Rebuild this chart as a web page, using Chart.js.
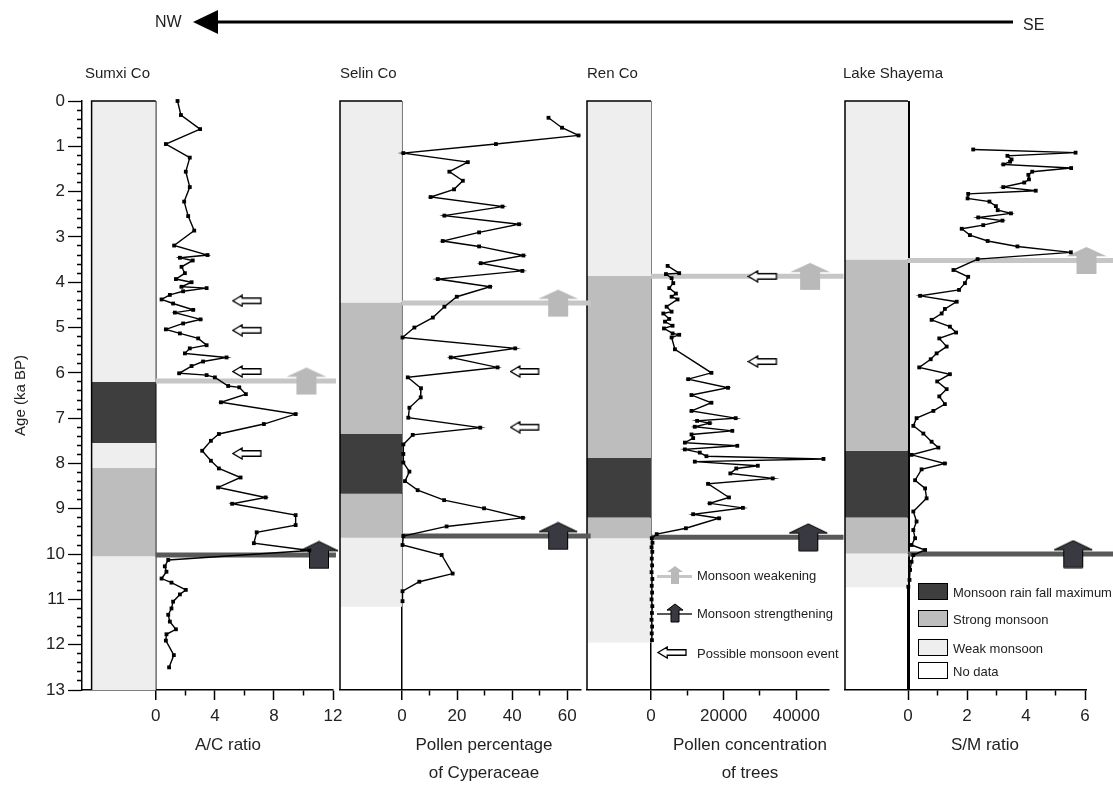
<!DOCTYPE html>
<html>
<head>
<meta charset="utf-8">
<script src="https://cdn.jsdelivr.net/npm/chart.js@4/dist/chart.umd.min.js"></script>
<style>
  body { margin: 0; background: #fff; font-family: 'Liberation Sans', Arial, sans-serif; }
  #wrap { position: relative; width: 1113px; height: 786px; overflow: hidden; }
  canvas.panel { position: absolute; left: 0; top: 0; }
  .t { position: absolute; white-space: nowrap; color: #222; }
  .c { transform: translate(-50%, -50%); }
  .m { transform: translateY(-50%); }
  .lg { font-size: 13px; }
  .ax { font-size: 17px; }
  .box { position: absolute; width: 28px; height: 15px; border: 1.5px solid #000; }
  canvas.icon { position: absolute; }
</style>
</head>
<body>
<div id="wrap">
  <canvas id="c4" class="panel" width="1113" height="786"></canvas>
  <canvas id="c3" class="panel" width="1113" height="786"></canvas>
  <canvas id="c2" class="panel" width="1113" height="786"></canvas>
  <canvas id="c1" class="panel" width="1113" height="786"></canvas>

  <svg style="position:absolute;left:0;top:0" width="1113" height="50">
    <line x1="210" y1="22" x2="1013" y2="22" stroke="#000" stroke-width="3"/>
    <polygon points="193,22 218,10 218,34" fill="#000"/>
  </svg>
  <div class="t" style="left:155px;top:22px;font-size:16px;transform:translateY(-50%)">NW</div>
  <div class="t" style="left:1023px;top:25px;font-size:16px;transform:translateY(-50%)">SE</div>

  <div class="t m" style="left:85px;top:72px;font-size:15px">Sumxi Co</div>
  <div class="t m" style="left:340px;top:72px;font-size:15px">Selin Co</div>
  <div class="t m" style="left:587px;top:72px;font-size:15px">Ren Co</div>
  <div class="t m" style="left:843px;top:72px;font-size:15px">Lake Shayema</div>

  <div class="t c ax" style="left:228px;top:745px">A/C ratio</div>
  <div class="t c ax" style="left:484px;top:745px">Pollen percentage</div>
  <div class="t c ax" style="left:484px;top:773px">of Cyperaceae</div>
  <div class="t c ax" style="left:750px;top:745px">Pollen concentration</div>
  <div class="t c ax" style="left:750px;top:773px">of trees</div>
  <div class="t c ax" style="left:985px;top:745px">S/M ratio</div>

  <!-- legend: events -->
  <canvas id="iconWeak" class="icon" width="38" height="22" style="left:656px;top:564px"></canvas>
  <div class="t m lg" style="left:697px;top:575px">Monsoon weakening</div>
  <canvas id="iconStrong" class="icon" width="38" height="22" style="left:656px;top:602px"></canvas>
  <div class="t m lg" style="left:697px;top:613px">Monsoon strengthening</div>
  <canvas id="iconEvent" class="icon" width="32" height="14" style="left:656px;top:646px"></canvas>
  <div class="t m lg" style="left:697px;top:653px">Possible monsoon event</div>

  <!-- legend: zones -->
  <div class="box" style="left:918px;top:583px;background:#3e3e3e"></div>
  <div class="t m lg" style="left:953px;top:592px">Monsoon rain fall maximum</div>
  <div class="box" style="left:918px;top:610px;background:#bdbdbd"></div>
  <div class="t m lg" style="left:953px;top:619px">Strong monsoon</div>
  <div class="box" style="left:918px;top:639px;background:#eeeeee"></div>
  <div class="t m lg" style="left:953px;top:648px">Weak monsoon</div>
  <div class="box" style="left:918px;top:662px;background:#fff"></div>
  <div class="t m lg" style="left:953px;top:671px">No data</div>
</div>

<script>
// age axis (ka BP)
const ageTicks = [0, 1, 2, 3, 4, 5, 6, 7, 8, 9, 10, 11, 12, 13];

// Sumxi Co - A/C ratio
const sumxiAge = [0.0, 0.31, 0.62, 0.95, 1.25, 1.56, 1.9, 2.22, 2.54, 2.86, 3.19, 3.4, 3.46, 3.52, 3.66, 3.8, 3.93, 4.0, 4.1, 4.13,
  4.2, 4.28, 4.38, 4.47, 4.61, 4.67, 4.82, 4.91, 5.04, 5.13, 5.24, 5.39, 5.46, 5.57, 5.66, 5.75, 5.85, 6.01, 6.05, 6.1,
  6.29, 6.32, 6.47, 6.65, 6.91, 7.13, 7.35, 7.5, 7.72, 7.94, 8.11, 8.31, 8.53, 8.75, 8.89, 9.14, 9.36, 9.52, 9.76, 9.92,
  10.13, 10.27, 10.39, 10.54, 10.63, 10.79, 10.89, 11.05, 11.2, 11.34, 11.49, 11.66, 11.77, 11.91, 12.23, 12.5];
const sumxiAC = [1.47, 1.7, 3.0, 0.68, 2.3, 2.03, 2.3, 1.92, 2.19, 2.6, 1.24, 3.5, 1.63, 2.5, 1.74, 1.97, 1.36, 2.42, 1.74, 3.44,
  1.85, 0.95, 0.39, 1.17, 2.53, 1.29, 3.03, 1.85, 0.68, 1.63, 2.87, 3.44, 2.3, 1.97, 4.79, 3.2, 2.42, 1.58, 3.44, 4.0,
  4.9, 5.65, 6.1, 4.41, 9.47, 7.32, 4.27, 3.73, 3.14, 3.73, 4.27, 5.74, 4.22, 7.44, 5.17, 9.47, 9.47, 6.83, 6.64, 10.4,
  0.84, 0.61, 0.72, 0.39, 1.06, 2.03, 1.63, 1.17, 1.06, 0.84, 0.95, 1.36, 0.72, 0.68, 1.22, 0.9];
const sumxiZones = [['weak', 0, 6.2], ['max', 6.2, 7.55], ['weak', 7.55, 8.1], ['strong', 8.1, 10.05], ['weak', 10.05, 13]];
const sumxiShifts = [6.18, 10.02];          // weakening, strengthening
const sumxiEvents = [4.41, 5.06, 5.97, 7.78];
const sumxiTicks = [0, 4, 8, 12];

// Selin Co - pollen percentage of Cyperaceae
const selinAge = [0.37, 0.59, 0.76, 0.95, 1.15, 1.35, 1.56, 1.76, 1.95, 2.12, 2.33, 2.53, 2.72, 2.9, 3.09, 3.21, 3.41, 3.58, 3.75, 3.93,
  4.1, 4.32, 4.54, 4.78, 5.0, 5.22, 5.46, 5.66, 5.88, 6.1, 6.34, 6.54, 6.77, 6.99, 7.21, 7.37, 7.58, 7.79, 7.98, 8.18,
  8.39, 8.59, 8.81, 8.99, 9.2, 9.39, 9.6, 9.8, 10.02, 10.43, 10.61, 10.82, 11.04];
const selinCyp = [53.2, 58.1, 64.1, 34.1, 0.5, 23.9, 17.2, 22.1, 18.9, 10.4, 36.5, 15.4, 42.5, 28, 14.8, 28, 44.1, 28.6, 43.7, 13,
  32, 19.9, 15.4, 11.2, 4.5, 0.2, 41.1, 17.7, 34.7, 2.1, 6.9, 6.8, 2.7, 2.3, 28.4, 3.9, 0.5, 0.5, 0.5, 2.7,
  1.1, 5.7, 15.3, 29.8, 43.9, 16.2, 0.5, 0.2, 14.4, 18.4, 6.3, 0.2, 0.2];
const selinZones = [['weak', 0, 4.45], ['strong', 4.45, 7.35], ['max', 7.35, 8.67], ['strong', 8.67, 9.64], ['weak', 9.64, 11.16]];
const selinShifts = [4.46, 9.6];
const selinEvents = [5.97, 7.2];
const selinTicks = [0, 20, 40, 60];

// Ren Co - pollen concentration of trees
const renAge = [3.64, 3.8, 3.82, 3.91, 4.02, 4.13, 4.25, 4.32, 4.38, 4.54, 4.65, 4.69, 4.81, 4.87, 4.96, 5.02, 5.13, 5.16, 5.22, 5.48,
  6.0, 6.14, 6.33, 6.49, 6.66, 6.84, 7.0, 7.06, 7.11, 7.19, 7.28, 7.36, 7.44, 7.54, 7.61, 7.69, 7.76, 7.84, 7.9, 7.96,
  8.05, 8.11, 8.22, 8.33, 8.45, 8.75, 8.88, 8.98, 9.12, 9.21, 9.43, 9.56, 9.65, 9.75, 9.85, 9.95, 10.1, 10.25, 10.4, 10.55,
  10.7, 10.85, 11.0, 11.15, 11.3, 11.45, 11.6, 11.75, 11.9];
const renTrees = [4570, 7750, 4110, 5660, 6120, 5010, 6850, 5660, 7300, 4290, 5660, 3380, 5010, 3840, 5930, 3560, 5930, 7750, 5660, 6580,
  16630, 10230, 21190, 11140, 16630, 11140, 23290, 12690, 16160, 12050, 22380, 11140, 11600, 9320, 23750, 9320, 13420, 15250, 47490, 12050,
  29400, 23470, 21830, 33500, 15700, 21460, 16160, 25290, 11600, 18720, 9590, 1560, 200, 400, 150, 350, 200, 300, 150, 350,
  200, 300, 150, 350, 250, 150, 300, 200, 250];
const renZones = [['weak', 0, 3.86], ['strong', 3.86, 7.88], ['max', 7.88, 9.19], ['strong', 9.19, 9.65], ['weak', 9.65, 11.95]];
const renShifts = [3.87, 9.63];
const renEvents = [3.87, 5.75];
const renTicks = [0, 20000, 40000];

// Lake Shayema - S/M ratio
const shayemaAge = [1.07, 1.14, 1.21, 1.29, 1.34, 1.4, 1.48, 1.56, 1.63, 1.73, 1.8, 1.9, 1.98, 2.05, 2.15, 2.22, 2.32, 2.41, 2.48, 2.57,
  2.64, 2.74, 2.82, 2.96, 3.09, 3.21, 3.34, 3.49, 3.73, 3.88, 4.02, 4.17, 4.3, 4.43, 4.59, 4.69, 4.83, 4.98, 5.11, 5.24,
  5.42, 5.57, 5.7, 5.88, 6.03, 6.19, 6.36, 6.52, 6.69, 6.84, 7.0, 7.17, 7.34, 7.52, 7.65, 7.81, 8.0, 8.13, 8.37, 8.55,
  8.77, 9.06, 9.28, 9.47, 9.65, 9.8, 9.91, 10.02, 10.17, 10.35, 10.57, 10.72];
const shayemaSM = [2.21, 5.68, 3.37, 3.51, 3.46, 3.23, 5.53, 4.21, 4.08, 4.1, 3.94, 3.23, 4.33, 2.04, 2.02, 2.76, 2.98, 3.04, 3.49, 2.38,
  3.2, 2.55, 1.82, 2.1, 2.7, 3.71, 5.52, 2.36, 1.54, 2.04, 1.93, 1.73, 0.41, 1.65, 1.25, 1.14, 0.8, 1.42, 1.63, 1.06,
  1.31, 0.97, 0.77, 0.38, 1.42, 0.99, 1.31, 1.06, 1.25, 0.86, 0.29, 0.18, 0.52, 0.8, 1.03, 0.12, 1.25, 0.46, 0.24, 0.58,
  0.63, 0.18, 0.29, 0.18, 0.24, 0.12, 0.58, 0.18, 0.12, 0.07, 0.05, 0.01];
const shayemaZones = [['weak', 0, 3.5], ['strong', 3.5, 7.72], ['max', 7.72, 9.19], ['strong', 9.19, 9.99], ['weak', 9.99, 10.73]];
const shayemaShifts = [3.52, 10.0];
const shayemaEvents = [];
const shayemaTicks = [0, 2, 4, 6];

const zoneColors = { max: '#3e3e3e', strong: '#bdbdbd', weak: '#eeeeee' };
const FONT = "'Liberation Sans', Arial, sans-serif";

// arrow glyphs used as point styles
function blockArrow(ctx, cx, top, w, h, fill, stroke) {
  const headH = h * 0.34, sw = w * 0.5;
  ctx.beginPath();
  ctx.moveTo(cx, top);
  ctx.lineTo(cx + w / 2, top + headH);
  ctx.lineTo(cx + sw / 2, top + headH);
  ctx.lineTo(cx + sw / 2, top + h);
  ctx.lineTo(cx - sw / 2, top + h);
  ctx.lineTo(cx - sw / 2, top + headH);
  ctx.lineTo(cx - w / 2, top + headH);
  ctx.closePath();
  ctx.fillStyle = fill;
  ctx.fill();
  if (stroke) { ctx.strokeStyle = stroke; ctx.lineWidth = 1; ctx.stroke(); }
}
function hollowArrow(ctx, x, y, w, h) {
  const hw = w * 0.33;
  ctx.beginPath();
  ctx.moveTo(x, y + h / 2);
  ctx.lineTo(x + hw, y);
  ctx.lineTo(x + hw, y + h * 0.25);
  ctx.lineTo(x + w, y + h * 0.25);
  ctx.lineTo(x + w, y + h * 0.75);
  ctx.lineTo(x + hw, y + h * 0.75);
  ctx.lineTo(x + hw, y + h);
  ctx.closePath();
  ctx.fillStyle = '#fff';
  ctx.fill();
  ctx.strokeStyle = '#000';
  ctx.lineWidth = 1.3;
  ctx.stroke();
}
function glyph(w, h, draw) {
  const c = document.createElement('canvas');
  c.width = w; c.height = h;
  draw(c.getContext('2d'));
  return c;
}
const lightArrow = glyph(42, 29, g => blockArrow(g, 21, 1, 40, 27, '#b9b9b9', null));
const darkArrow = glyph(42, 29, g => blockArrow(g, 21, 1, 38, 27, '#393941', '#000'));
const eventArrow = glyph(31, 13, g => hollowArrow(g, 1, 1, 28, 11));

// legend icons
(function () {
  let g = document.getElementById('iconWeak').getContext('2d');
  g.fillStyle = '#c6c6c6'; g.fillRect(1, 11, 35, 3);
  blockArrow(g, 19, 2, 16, 18, '#b9b9b9', null);
  g = document.getElementById('iconStrong').getContext('2d');
  g.fillStyle = '#595959'; g.fillRect(1, 11, 35, 2);
  blockArrow(g, 19, 2, 16, 18, '#393941', '#000');
  g = document.getElementById('iconEvent').getContext('2d');
  hollowArrow(g, 2, 1, 28, 11);
})();

const panels = [
  { id: 'c1', age: sumxiAge, val: sumxiAC, zones: sumxiZones, shifts: sumxiShifts, events: sumxiEvents, ticks: sumxiTicks,
    step: 2, xMin: -5, colMin: -4.35, xMax: 12, padL: 8, padR: 780, yAxis: true,
    arrowX: [10.2, 11.05], lineEnd: 12.2, eventX: 6.2, zeroW: 1.5 },
  { id: 'c2', age: selinAge, val: selinCyp, zones: selinZones, shifts: selinShifts, events: selinEvents, ticks: selinTicks,
    step: 10, xMin: -22.5, colMin: -22.5, xMax: 65, padL: 340, padR: 532, yAxis: false,
    arrowX: [56.7, 56.7], lineEnd: 68.5, eventX: 44.7, zeroW: 1.5 },
  { id: 'c3', age: renAge, val: renTrees, zones: renZones, shifts: renShifts, events: renEvents, ticks: renTicks,
    step: 10000, xMin: -17630, colMin: -17630, xMax: 49000, padL: 587, padR: 284, yAxis: false,
    arrowX: [43800, 43300], lineEnd: 53000, eventX: 30800, zeroW: 1.5 },
  { id: 'c4', age: shayemaAge, val: shayemaSM, zones: shayemaZones, shifts: shayemaShifts, events: shayemaEvents, ticks: shayemaTicks,
    step: 1, xMin: -2.136, colMin: -2.136, xMax: 6, padL: 845, padR: 28, yAxis: false,
    arrowX: [6.05, 5.6], lineEnd: 7.1, eventX: 0, zeroW: 3 }
];

function buildPanel(p) {
  const datasets = [];
  datasets.push({
    data: p.age.map((a, i) => ({ x: p.val[i], y: a })),
    borderColor: '#000', borderWidth: 1.4, pointStyle: 'rect', pointRadius: 2.7,
    pointBackgroundColor: '#000', pointBorderWidth: 0, tension: 0, clip: false
  });
  datasets.push({
    data: p.events.map(a => ({ x: p.eventX, y: a })), showLine: false,
    pointStyle: eventArrow, pointRadius: 16, clip: false
  });
  datasets.push({
    data: [{ x: p.arrowX[1], y: p.shifts[1] }], showLine: false,
    pointStyle: darkArrow, pointRadius: 22, clip: false
  });
  datasets.push({
    data: [{ x: p.arrowX[0], y: p.shifts[0] }], showLine: false,
    pointStyle: lightArrow, pointRadius: 22, clip: false
  });
  datasets.push({
    data: [{ x: 0, y: p.shifts[0] }, { x: p.lineEnd, y: p.shifts[0] }],
    borderColor: '#c6c6c6', borderWidth: 5, pointRadius: 0, clip: false
  });
  datasets.push({
    data: [{ x: 0, y: p.shifts[1] }, { x: p.lineEnd, y: p.shifts[1] }],
    borderColor: '#595959', borderWidth: 5, pointRadius: 0, clip: false
  });
  // column frame
  datasets.push({
    data: [{ x: p.colMin, y: 13 }, { x: p.colMin, y: 0 }, { x: 0, y: 0 }],
    borderColor: '#000', borderWidth: 1.5, pointRadius: 0, clip: false
  });
  p.zones.forEach(z => datasets.push({
    data: [{ x: p.colMin, y: z[1] }, { x: 0, y: z[1] }],
    borderWidth: 0, pointRadius: 0, fill: { value: z[2] }, backgroundColor: zoneColors[z[0]]
  }));

  const xTicks = [];
  for (let v = 0; v <= p.ticks[p.ticks.length - 1] + p.step / 2; v += p.step) xTicks.push(v);
  const yTicks = [];
  for (let v = 0; v <= 13.0001; v += 0.2) yTicks.push(Math.round(v * 10) / 10);

  new Chart(document.getElementById(p.id), {
    type: 'line',
    data: { datasets },
    options: {
      responsive: false, animation: false, events: [], devicePixelRatio: 1,
      layout: { padding: { left: p.padL, right: p.padR, top: 101, bottom: 56 } },
      plugins: { legend: { display: false }, tooltip: { enabled: false } },
      scales: {
        x: {
          type: 'linear', min: p.xMin, max: p.xMax,
          afterBuildTicks: s => { s.ticks = xTicks.map(v => ({ value: v })); },
          afterFit: s => { s.height = 40; },
          border: { display: true, color: '#000', width: 1.5 },
          grid: {
            drawOnChartArea: true, tickLength: 10, tickColor: '#000', tickWidth: 1.5,
            color: c => (c.tick && c.tick.value === 0) ? '#000' : 'rgba(0,0,0,0)',
            lineWidth: c => (c.tick && c.tick.value === 0) ? p.zeroW : 1,
            tickBorderDash: c => (c.tick && p.ticks.includes(c.tick.value)) ? [] : [5, 40]
          },
          ticks: {
            autoSkip: false, maxRotation: 0, padding: 6, color: '#222',
            font: { size: 17, family: FONT },
            callback: v => p.ticks.includes(v) ? String(v) : ''
          }
        },
        y: {
          type: 'linear', reverse: true, min: 0, max: 13, display: p.yAxis,
          afterBuildTicks: s => { s.ticks = yTicks.map(v => ({ value: v })); },
          afterFit: s => { s.width = p.yAxis ? 74 : 0; },
          border: { display: true, color: '#000', width: 1.5 },
          grid: {
            drawOnChartArea: false, tickLength: 14, tickColor: '#000', tickWidth: 1.3,
            tickBorderDash: c => (c.tick && ageTicks.includes(c.tick.value)) ? [] : [0, 9, 5, 40]
          },
          ticks: {
            autoSkip: false, padding: 3, color: '#222',
            font: { size: 17, family: FONT },
            callback: v => ageTicks.includes(v) ? String(v) : ''
          },
          title: {
            display: true, text: 'Age (ka BP)', color: '#222',
            font: { size: 15, family: FONT }, padding: { top: 4, bottom: 0 }
          }
        }
      }
    }
  });
}

panels.forEach(buildPanel);
</script>
</body>
</html>
